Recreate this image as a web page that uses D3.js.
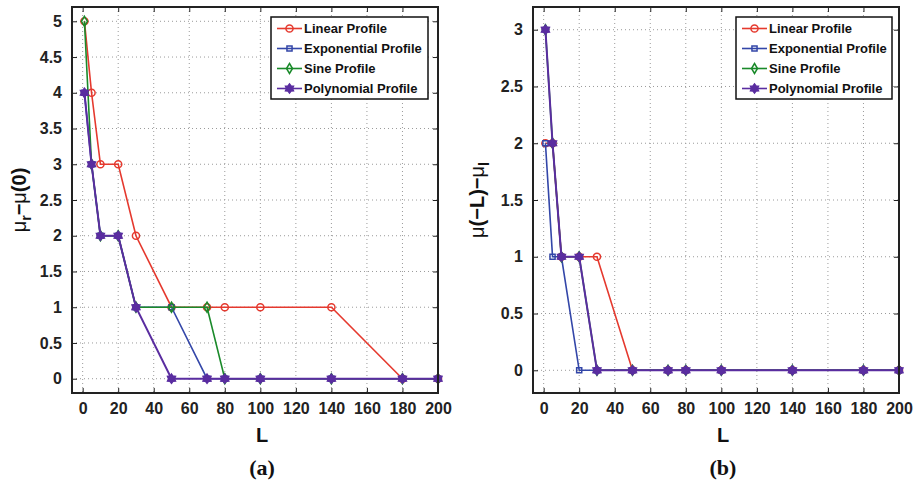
<!DOCTYPE html>
<html>
<head>
<meta charset="utf-8">
<script src="https://cdn.jsdelivr.net/npm/d3@7"></script>
<style>
    body { margin: 0; background: #fff; }
    .tick text { font-family: "Liberation Sans", Arial, sans-serif; font-weight: bold; font-size: 16px; fill: #222; }
    .legend text { font-family: "Liberation Sans", Arial, sans-serif; font-weight: bold; font-size: 13px; fill: #111; }
</style>
</head>
<body>
<div class="figure"></div>
<script>
// ----- DATA ------------------------------------------------------------
const L_VALUES = [1, 5, 10, 20, 30, 50, 70, 80, 100, 140, 180, 200];
const SERIES_NAMES = ["Linear Profile", "Exponential Profile", "Sine Profile", "Polynomial Profile"];

// panel (a): mu_r - mu(0)
const linearA      = [5, 4, 3, 3, 2, 1, 1, 1, 1, 1, 0, 0];
const exponentialA = [4, 3, 2, 2, 1, 1, 0, 0, 0, 0, 0, 0];
const sineA        = [5, 3, 2, 2, 1, 1, 1, 0, 0, 0, 0, 0];
const polynomialA  = [4, 3, 2, 2, 1, 0, 0, 0, 0, 0, 0, 0];

// panel (b): mu(-L) - mu_l
const linearB      = [2, 2, 1, 1, 1, 0, 0, 0, 0, 0, 0, 0];
const exponentialB = [2, 1, 1, 0, 0, 0, 0, 0, 0, 0, 0, 0];
const sineB        = [3, 2, 1, 1, 0, 0, 0, 0, 0, 0, 0, 0];
const polynomialB  = [3, 2, 1, 1, 0, 0, 0, 0, 0, 0, 0, 0];

const X_TICKS  = [0, 20, 40, 60, 80, 100, 120, 140, 160, 180, 200];
const Y_TICKS_A = [0, 0.5, 1, 1.5, 2, 2.5, 3, 3.5, 4, 4.5, 5];
const Y_TICKS_B = [0, 0.5, 1, 1.5, 2, 2.5, 3];

const COLOURS = ["#e5392e", "#3346a8", "#1a8a2a", "#5a2da0"];
const MARKERS = ["circle", "square", "diamond", "star"];

const width = 916, height = 486;

const svg = d3.select(".figure").append("svg")
    .attr("width", width)
    .attr("height", height);

// hexagram-ish marker for the polynomial series
function _markerPath( type )
{
    if( type === "circle" )  { return d3.symbol(d3.symbolCircle, 40)(); }
    if( type === "square" )  { return d3.symbol(d3.symbolSquare, 26)(); }
    if( type === "diamond" ) { return "M0,-5L3,0L0,5L-3,0Z"; }

    let pts = [];
    for( let i = 0; i < 12; i++ )
    {
        let a = i * Math.PI / 6 - Math.PI / 2;
        let r = ( i % 2 === 0 ) ? 4.6 : 3;
        pts.push( [r * Math.cos(a), r * Math.sin(a)] );
    }
    return "M" + pts.map(p => p[0].toFixed(2) + "," + p[1].toFixed(2)).join("L") + "Z";
}

function _drawPanel( opts )
{
    const box = opts.box;
    const innerWidth = box.right - box.left;
    const innerHeight = box.bottom - box.top;

    let x = d3.scaleLinear().domain([-6, 200]).range([0, innerWidth]);
    let y = d3.scaleLinear().domain(opts.yDomain).range([innerHeight, 0]);

    let g = svg.append("g")
        .attr("transform", "translate(" + box.left + "," + box.top + ")");

    // dotted grid
    g.append("g").selectAll("line")
        .data(X_TICKS)
        .enter().append("line")
            .attr("x1", d => x(d)).attr("x2", d => x(d))
            .attr("y1", 0).attr("y2", innerHeight)
            .attr("stroke", "#9a9a9a")
            .attr("stroke-width", 1)
            .attr("stroke-dasharray", "1,3");

    g.append("g").selectAll("line")
        .data(opts.yTicks)
        .enter().append("line")
            .attr("x1", 0).attr("x2", innerWidth)
            .attr("y1", d => y(d)).attr("y2", d => y(d))
            .attr("stroke", "#9a9a9a")
            .attr("stroke-width", 1)
            .attr("stroke-dasharray", "1,3");

    // axes (inward ticks, matlab style)
    let xAxis = d3.axisBottom(x).tickValues(X_TICKS).tickSizeInner(-5).tickSizeOuter(0).tickPadding(10);
    let yAxis = d3.axisLeft(y).tickValues(opts.yTicks).tickSizeInner(-5).tickSizeOuter(0).tickPadding(10)
                    .tickFormat(d3.format("~g"));

    g.append("g")
        .attr("transform", "translate(0," + innerHeight + ")")
        .call(xAxis)
        .call(a => a.select(".domain").remove());

    g.append("g")
        .call(yAxis)
        .call(a => a.select(".domain").remove());

    g.append("g")
        .call(d3.axisTop(x).tickValues(X_TICKS).tickSizeInner(-5).tickSizeOuter(0).tickFormat(""))
        .call(a => a.select(".domain").remove());

    g.append("g")
        .attr("transform", "translate(" + innerWidth + ",0)")
        .call(d3.axisRight(y).tickValues(opts.yTicks).tickSizeInner(-5).tickSizeOuter(0).tickFormat(""))
        .call(a => a.select(".domain").remove());

    g.selectAll(".tick line").attr("stroke", "#222");

    // series lines
    let line = d3.line()
        .x((d, i) => x(L_VALUES[i]))
        .y(d => y(d));

    opts.series.forEach((s, k) => {
        g.append("path")
            .datum(s)
            .attr("fill", "none")
            .attr("stroke", COLOURS[k])
            .attr("stroke-width", k === 3 ? 2 : 1.6)
            .attr("d", line);

        g.append("g").selectAll("path")
            .data(s)
            .enter().append("path")
                .attr("transform", (d, i) => "translate(" + x(L_VALUES[i]) + "," + y(d) + ")")
                .attr("d", _markerPath(MARKERS[k]))
                .attr("fill", MARKERS[k] === "star" ? COLOURS[k] : "none")
                .attr("stroke", COLOURS[k])
                .attr("stroke-width", 1.5);
    });

    // frame
    g.append("rect")
        .attr("width", innerWidth)
        .attr("height", innerHeight)
        .attr("fill", "none")
        .attr("stroke", "#222")
        .attr("stroke-width", 2);

    // legend
    let legend = g.append("g")
        .classed("legend", true)
        .attr("transform", "translate(" + opts.legend.x + "," + opts.legend.y + ")");

    legend.append("rect")
        .attr("width", opts.legend.w)
        .attr("height", 82)
        .attr("fill", "#fff")
        .attr("stroke", "#111")
        .attr("stroke-width", 1.5);

    SERIES_NAMES.forEach((name, k) => {
        let row = legend.append("g")
            .attr("transform", "translate(0," + (11.5 + k * 20) + ")");
        row.append("line")
            .attr("x1", 6).attr("x2", 31)
            .attr("stroke", COLOURS[k])
            .attr("stroke-width", 1.6);
        row.append("path")
            .attr("transform", "translate(18.5,0)")
            .attr("d", _markerPath(MARKERS[k]))
            .attr("fill", MARKERS[k] === "star" ? COLOURS[k] : "none")
            .attr("stroke", COLOURS[k])
            .attr("stroke-width", 1.5);
        row.append("text")
            .attr("x", 33)
            .attr("y", 4.5)
            .text(name);
    });

    // x label and panel caption
    svg.append("text")
        .attr("x", opts.labelX)
        .attr("y", 442)
        .attr("text-anchor", "middle")
        .style("font-family", "Liberation Sans, Arial, sans-serif")
        .style("font-weight", "bold")
        .style("font-size", "20px")
        .attr("fill", "#111")
        .text("L");

    svg.append("text")
        .attr("x", opts.labelX)
        .attr("y", 475)
        .attr("text-anchor", "middle")
        .style("font-family", "Liberation Serif, Times New Roman, serif")
        .style("font-weight", "bold")
        .style("font-size", "22px")
        .attr("fill", "#111")
        .text(opts.caption);

    // y label (rotated, with subscript)
    let yl = svg.append("text")
        .attr("transform", "translate(" + opts.yLabelX + ",200) rotate(-90)")
        .attr("text-anchor", "middle")
        .style("font-family", "Liberation Sans, Arial, sans-serif")
        .style("font-weight", "bold")
        .style("font-size", "20px")
        .attr("fill", "#111");

    opts.yLabel.forEach(part => {
        yl.append("tspan")
            .attr("dy", part.sub ? 5 : (part.after ? -5 : 0))
            .style("font-size", part.sub ? "14px" : null)
            .style("font-weight", part.mu ? "normal" : null)
            .text(part.t);
    });
}

_drawPanel({
    box: { left: 72, right: 438, top: 7, bottom: 393 },
    yDomain: [-0.2, 5.2],
    yTicks: Y_TICKS_A,
    series: [linearA, exponentialA, sineA, polynomialA],
    legend: { x: 199, y: 10, w: 157 },
    labelX: 262,
    caption: "(a)",
    yLabelX: 26,
    yLabel: [ { t: "\u03bc", mu: true }, { t: "r", sub: true }, { t: "\u2212", after: true }, { t: "\u03bc", mu: true }, { t: "(0)" } ]
});

_drawPanel({
    box: { left: 533, right: 899, top: 7, bottom: 393 },
    yDomain: [-0.2, 3.2],
    yTicks: Y_TICKS_B,
    series: [linearB, exponentialB, sineB, polynomialB],
    legend: { x: 203, y: 10, w: 156 },
    labelX: 723,
    caption: "(b)",
    yLabelX: 484,
    yLabel: [ { t: "\u03bc", mu: true }, { t: "(\u2212L)\u2212" }, { t: "\u03bc", mu: true }, { t: "l", sub: true } ]
});
</script>
</body>
</html>
